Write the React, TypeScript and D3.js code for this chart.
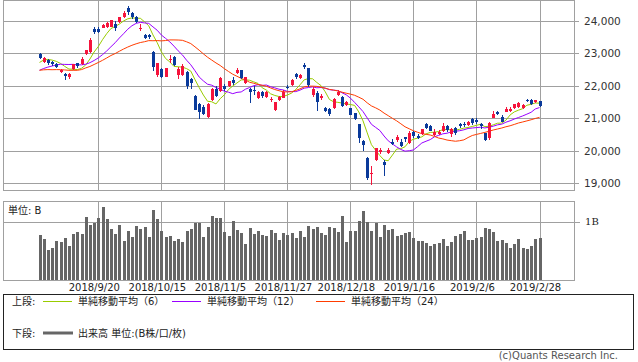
import * as d3 from 'd3'

// daily candles, 2018/8/30 .. 2019/2/28
const dates = [
  '2018/8/30', '2018/8/31', '2018/9/3', '2018/9/4', '2018/9/5', '2018/9/6', '2018/9/7', '2018/9/10', '2018/9/11', '2018/9/12',
  '2018/9/13', '2018/9/14', '2018/9/18', '2018/9/19', '2018/9/20', '2018/9/21', '2018/9/25', '2018/9/26', '2018/9/27', '2018/9/28',
  '2018/10/1', '2018/10/2', '2018/10/3', '2018/10/4', '2018/10/5', '2018/10/9', '2018/10/10', '2018/10/11', '2018/10/12', '2018/10/15',
  '2018/10/16', '2018/10/17', '2018/10/18', '2018/10/19', '2018/10/22', '2018/10/23', '2018/10/24', '2018/10/25', '2018/10/26', '2018/10/29',
  '2018/10/30', '2018/10/31', '2018/11/1', '2018/11/2', '2018/11/5', '2018/11/6', '2018/11/7', '2018/11/8', '2018/11/9', '2018/11/12',
  '2018/11/13', '2018/11/14', '2018/11/15', '2018/11/16', '2018/11/19', '2018/11/20', '2018/11/21', '2018/11/22', '2018/11/26', '2018/11/27',
  '2018/11/28', '2018/11/29', '2018/11/30', '2018/12/3', '2018/12/4', '2018/12/5', '2018/12/6', '2018/12/7', '2018/12/10', '2018/12/11',
  '2018/12/12', '2018/12/13', '2018/12/14', '2018/12/17', '2018/12/18', '2018/12/19', '2018/12/20', '2018/12/21', '2018/12/25', '2018/12/26',
  '2018/12/27', '2018/12/28', '2019/1/4', '2019/1/7', '2019/1/8', '2019/1/9', '2019/1/10', '2019/1/11', '2019/1/15', '2019/1/16',
  '2019/1/17', '2019/1/18', '2019/1/21', '2019/1/22', '2019/1/23', '2019/1/24', '2019/1/25', '2019/1/28', '2019/1/29', '2019/1/30',
  '2019/1/31', '2019/2/1', '2019/2/4', '2019/2/5', '2019/2/6', '2019/2/7', '2019/2/8', '2019/2/12', '2019/2/13', '2019/2/14',
  '2019/2/15', '2019/2/18', '2019/2/19', '2019/2/20', '2019/2/21', '2019/2/22', '2019/2/25', '2019/2/26', '2019/2/27', '2019/2/28',
]

const opens = [
  22980, 22750, 22800, 22740, 22690, 22440, 22370, 22260, 22530, 22700,
  22680, 22990, 23030, 23760, 23760, 23790, 23810, 23830, 23900, 23980,
  24130, 24400, 24240, 24130, 23760, 23580, 23560, 23050, 22340, 22520,
  22290, 22800, 22900, 22330, 22340, 22440, 22200, 21690, 21440, 21340,
  21030, 21570, 21895, 21830, 22000, 22000, 22180, 22410, 22490, 22080,
  21900, 21860, 21640, 21820, 21670, 21560, 21260, 21570, 21640, 21960,
  22030, 22367, 22240, 22640, 22545, 21720, 21790, 21620, 21330, 21290,
  21330, 21720, 21670, 21410, 21310, 21160, 20815, 20310, 19785, 19300,
  19720, 19950, 19660, 19940, 20280, 20335, 20280, 20420, 20250, 20570,
  20470, 20510, 20840, 20770, 20500, 20510, 20600, 20770, 20520, 20690,
  20830, 20840, 20800, 20970, 20950, 20830, 20540, 20390, 21020, 21185,
  21050, 21205, 21225, 21310, 21340, 21330, 21560, 21565, 21495, 21535,
]

const highs = [
  23010, 22900, 22830, 22760, 22710, 22530, 22400, 22400, 22680, 22720,
  22880, 23120, 23480, 23810, 23800, 23900, 23960, 24040, 23990, 24130,
  24300, 24448, 24280, 24150, 23900, 23600, 23590, 23080, 22720, 22560,
  22560, 22960, 22920, 22590, 22660, 22460, 22240, 21710, 21460, 21420,
  21480, 21930, 22000, 22260, 22050, 22160, 22270, 22560, 22500, 22280,
  21950, 21990, 21840, 21850, 21840, 21660, 21520, 21680, 21870, 22020,
  22210, 22400, 22380, 22700, 22560, 21960, 21830, 21750, 21350, 21310,
  21640, 21880, 21690, 21530, 21330, 21180, 20840, 20340, 19800, 19530,
  20090, 20090, 19720, 20080, 20350, 20480, 20360, 20440, 20600, 20600,
  20520, 20680, 20870, 20800, 20660, 20640, 20850, 20790, 20690, 20720,
  20850, 20880, 20910, 21000, 21010, 20860, 20560, 20880, 21240, 21220,
  21090, 21340, 21340, 21450, 21510, 21440, 21590, 21600, 21580, 21550,
]

const lows = [
  22830, 22700, 22650, 22610, 22540, 22390, 22170, 22220, 22500, 22560,
  22650, 22960, 23000, 23600, 23640, 23770, 23780, 23800, 23700, 23950,
  24100, 24200, 24060, 23930, 23700, 23440, 23460, 22460, 22260, 22250,
  22260, 22700, 22620, 22200, 22300, 21920, 21900, 21250, 20970, 21100,
  21000, 21540, 21650, 21800, 21830, 21980, 22020, 22380, 22220, 22060,
  21480, 21720, 21600, 21620, 21640, 21510, 21240, 21550, 21620, 21900,
  22010, 22220, 22220, 22510, 21960, 21650, 21220, 21560, 21200, 21060,
  21300, 21700, 21340, 21390, 21090, 20940, 20240, 19980, 19117, 18948,
  19700, 19900, 19240, 19900, 20180, 20280, 20110, 20270, 20210, 20400,
  20380, 20490, 20680, 20600, 20470, 20480, 20580, 20580, 20420, 20500,
  20700, 20730, 20780, 20810, 20820, 20680, 20310, 20330, 21000, 21110,
  20890, 21190, 21200, 21290, 21320, 21300, 21500, 21400, 21480, 21360,
]

const closes = [
  22848, 22865, 22707, 22670, 22580, 22487, 22307, 22373, 22664, 22604,
  22821, 23094, 23420, 23672, 23674, 23869, 23940, 24033, 23796, 24120,
  24245, 24270, 24110, 23975, 23784, 23469, 23506, 22590, 22694, 22271,
  22549, 22841, 22658, 22532, 22614, 22010, 22091, 21268, 21184, 21149,
  21457, 21920, 21687, 22243, 21898, 22147, 22085, 22486, 22250, 22269,
  21810, 21846, 21803, 21680, 21821, 21583, 21507, 21646, 21812, 21952,
  22177, 22262, 22351, 22574, 22036, 21919, 21501, 21678, 21219, 21148,
  21602, 21816, 21374, 21506, 21115, 20987, 20392, 20166, 19155, 19327,
  20077, 20014, 19561, 20038, 20204, 20427, 20163, 20359, 20555, 20442,
  20402, 20666, 20719, 20622, 20593, 20574, 20773, 20649, 20664, 20556,
  20773, 20788, 20883, 20844, 20874, 20751, 20333, 20864, 21144, 21139,
  20900, 21281, 21302, 21431, 21464, 21425, 21528, 21449, 21556, 21385,
]

// closes of the 23 sessions before the first candle, so the averages start full
const priorCloses = [
  22544, 22553, 22746, 22512, 22525, 22507, 22662, 22644, 22598, 22298,
  21857, 22356, 22204, 22192, 22270, 22199, 22219, 22362, 22410, 22601,
  22799, 22813, 22869,
]

// volume, billions of shares
const volumes = [
  0.77, 0.70, 0.51, 0.55, 0.67, 0.65, 0.72, 0.58, 0.79, 0.82,
  0.79, 1.08, 0.95, 0.98, 1.06, 1.25, 1.05, 0.87, 0.79, 0.94,
  0.67, 0.84, 0.74, 0.93, 0.87, 0.91, 0.74, 1.20, 1.05, 0.84,
  0.74, 0.75, 0.67, 0.70, 0.65, 0.84, 0.87, 0.98, 0.98, 0.74,
  0.91, 1.10, 1.06, 1.06, 0.82, 0.75, 1.01, 0.86, 0.81, 0.62,
  0.89, 0.79, 0.84, 0.77, 0.75, 0.86, 0.81, 0.69, 0.81, 0.77,
  0.81, 0.72, 0.84, 0.74, 0.93, 0.87, 0.91, 0.81, 0.77, 0.91,
  0.89, 0.82, 1.09, 0.65, 0.84, 0.84, 1.01, 1.18, 0.99, 0.84,
  0.98, 0.74, 0.94, 0.86, 0.87, 0.75, 0.77, 0.81, 0.82, 0.72,
  0.67, 0.67, 0.63, 0.58, 0.62, 0.63, 0.70, 0.58, 0.65, 0.75,
  0.79, 0.84, 0.69, 0.69, 0.72, 0.74, 0.89, 0.87, 0.82, 0.67,
  0.69, 0.63, 0.55, 0.62, 0.70, 0.55, 0.53, 0.58, 0.70, 0.72,
]

const priceTicks = [19000, 20000, 21000, 22000, 23000, 24000]
const volumeTicks = [1]
const tickDates = ['2018/9/20', '2018/10/15', '2018/11/5', '2018/11/27', '2018/12/18', '2019/1/16', '2019/2/6', '2019/2/28']

const maPeriods = [6, 12, 24]
const maColors = ['#99cc00', '#9900ff', '#ff3c00']
const maLabels = ['単純移動平均（6）', '単純移動平均（12）', '単純移動平均（24）']

const upColor = '#f5143c'
const downColor = '#0a3a9a'
const gridColor = '#a0a0a0'
const font = '"DejaVu Sans", "Noto Sans CJK JP", sans-serif'

export default function App() {
  const left = 3, right = 574
  const x = d3.scaleLinear().domain([0, dates.length - 1]).range([39.5, 539.5])
  const y = d3.scaleLinear().domain([19000, 24000]).range([183.3, 21])
  const yVol = d3.scaleLinear().domain([0, 1]).range([280, 221.7])

  const all = priorCloses.concat(closes)
  const off = priorCloses.length
  const movingAvg = (n: number) =>
    closes.map((_, i) => d3.mean(all.slice(off + i - n + 1, off + i + 1)) as number)

  const line = d3.line<number>()
    .x((_, i) => x(i))
    .y(d => y(d))

  const tickIdx = tickDates.map(d => dates.indexOf(d))

  return (
    <svg width={638} height={362} style={{ position: 'absolute', left: 0, top: 0, background: '#fff' }}
      fontFamily={font}>
      {/* price panel */}
      <g shapeRendering="crispEdges">
        {priceTicks.map(t => (
          <line key={t} x1={left} x2={right + 5} y1={Math.round(y(t)) + 0.5} y2={Math.round(y(t)) + 0.5} stroke={gridColor} />
        ))}
        {tickIdx.map(i => (
          <line key={i} x1={Math.round(x(i)) + 0.5} x2={Math.round(x(i)) + 0.5} y1={0} y2={190} stroke={gridColor} />
        ))}
        <rect x={left + 0.5} y={0.5} width={right - left} height={189.5} fill="none" stroke={gridColor} />
      </g>
      {priceTicks.map(t => (
        <text key={t} x={584} y={y(t)} dy="0.35em" fontSize={10.5} fill="#333">{d3.format(',')(t)}</text>
      ))}

      {maPeriods.map((n, k) => (
        <path key={n} d={line(movingAvg(n)) as string} fill="none" stroke={maColors[k]} strokeWidth={1} />
      ))}

      <g shapeRendering="crispEdges">
        {closes.map((c, i) => {
          const o = opens[i]
          const col = c >= o ? upColor : downColor
          const cx = Math.round(x(i))
          const top = y(Math.max(o, c))
          const h = Math.max(1, y(Math.min(o, c)) - top)
          return (
            <g key={i}>
              <line x1={cx + 0.5} x2={cx + 0.5} y1={y(highs[i])} y2={y(lows[i])} stroke={col} />
              <rect x={cx - 1} y={top} width={3} height={h} fill={col} />
            </g>
          )
        })}
      </g>

      {/* volume panel */}
      <g shapeRendering="crispEdges">
        {tickIdx.map(i => (
          <line key={i} x1={Math.round(x(i)) + 0.5} x2={Math.round(x(i)) + 0.5} y1={201} y2={280} stroke={gridColor} />
        ))}
        {volumeTicks.map(t => (
          <line key={t} x1={left} x2={right + 6} y1={Math.round(yVol(t)) + 0.5} y2={Math.round(yVol(t)) + 0.5} stroke={gridColor} />
        ))}
        {volumes.map((v, i) => (
          <rect key={i} x={Math.round(x(i)) - 1} y={yVol(v)} width={3} height={yVol(0) - yVol(v)} fill="#666" />
        ))}
        <rect x={left + 0.5} y={201.5} width={right - left} height={78.5} fill="none" stroke={gridColor} />
      </g>
      <text x={8} y={214} fontSize={10} fill="#222">単位: B</text>
      {volumeTicks.map(t => (
        <text key={t} x={585} y={yVol(t)} dy="0.35em" fontSize={10} fill="#222" fontFamily='"DejaVu Serif", serif'>{t}B</text>
      ))}

      {tickIdx.map((i, k) => (
        <text key={i} x={x(i) - 4} y={291} textAnchor="middle" fontSize={10} fill="#222">{tickDates[k]}</text>
      ))}

      {/* legend */}
      <rect x={3.5} y={294.5} width={630} height={55} fill="none" stroke="#222" shapeRendering="crispEdges" />
      <text x={12} y={305} fontSize={10} fill="#222">上段:</text>
      {maLabels.map((lab, k) => {
        const lx = [43, 172, 316][k]
        return (
          <g key={lab}>
            <line x1={lx} x2={lx + 29} y1={301.5} y2={301.5} stroke={maColors[k]} />
            <text x={lx + 35} y={305} fontSize={10} fill="#222">{lab}</text>
          </g>
        )
      })}
      <text x={12} y={337} fontSize={10} fill="#222">下段:</text>
      <line x1={43} x2={73} y1={333} y2={333} stroke="#666" strokeWidth={3} />
      <text x={78} y={337} fontSize={10} fill="#222">出来高 単位:(B株/口/枚)</text>

      <text x={618} y={359} textAnchor="end" fontSize={10} fill="#555">(c)Quants Research Inc.</text>
    </svg>
  )
}
